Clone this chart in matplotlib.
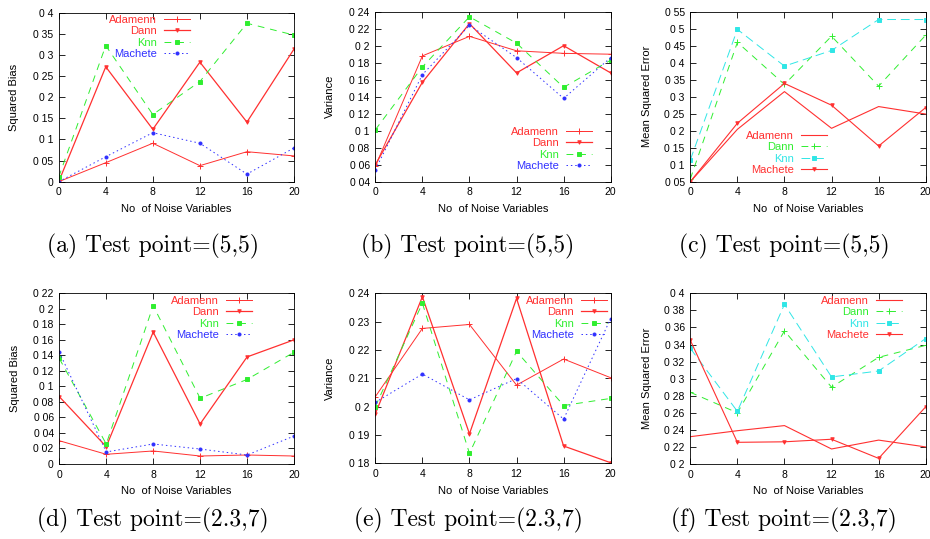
import matplotlib
matplotlib.use("Agg")
import matplotlib.pyplot as plt

plt.rcParams['font.family'] = ['Liberation Sans', 'DejaVu Sans']
plt.rcParams['axes.formatter.use_mathtext'] = False

x = [0, 4, 8, 12, 16, 20]
x_ticklabels = ["0", "4", "8", "12", "16", "20"]
series_names = ["Adamenn", "Dann", "Knn", "Machete"]

# (a) Squared bias, test point (5,5)
a_adamenn = [0.0, 0.045, 0.091, 0.038, 0.071, 0.061]
a_dann = [0.0, 0.272, 0.124, 0.283, 0.141, 0.314]
a_knn = [0.011, 0.322, 0.159, 0.237, 0.375, 0.347]
a_machete = [0.0, 0.059, 0.116, 0.091, 0.018, 0.080]
a_yticks = [0, 0.05, 0.1, 0.15, 0.2, 0.25, 0.3, 0.35, 0.4]
a_yticklabels = ["0", "0 05", "0 1", "0 15", "0 2", "0 25", "0 3", "0 35", "0 4"]

# (b) Variance, test point (5,5)
b_adamenn = [0.058, 0.188, 0.211, 0.194, 0.191, 0.190]
b_dann = [0.060, 0.157, 0.226, 0.168, 0.200, 0.168]
b_knn = [0.101, 0.175, 0.234, 0.203, 0.151, 0.183]
b_machete = [0.054, 0.166, 0.224, 0.186, 0.138, 0.186]
b_yticks = [0.04, 0.06, 0.08, 0.1, 0.12, 0.14, 0.16, 0.18, 0.2, 0.22, 0.24]
b_yticklabels = ["0 04", "0 06", "0 08", "0 1", "0 12", "0 14", "0 16", "0 18", "0 2", "0 22", "0 24"]

# (c) MSE, test point (5,5)
c_adamenn = [0.05, 0.204, 0.315, 0.207, 0.271, 0.249]
c_dann = [0.058, 0.460, 0.336, 0.478, 0.331, 0.481]
c_knn = [0.114, 0.498, 0.390, 0.436, 0.527, 0.527]
c_machete = [0.05, 0.222, 0.339, 0.275, 0.155, 0.268]
c_yticks = [0.05, 0.1, 0.15, 0.2, 0.25, 0.3, 0.35, 0.4, 0.45, 0.5, 0.55]
c_yticklabels = ["0 05", "0 1", "0 15", "0 2", "0 25", "0 3", "0 35", "0 4", "0 45", "0 5", "0 55"]

# (d) Squared bias, test point (2.3,7)
d_adamenn = [0.030, 0.0125, 0.0168, 0.0103, 0.0116, 0.0103]
d_dann = [0.0868, 0.0223, 0.170, 0.0516, 0.138, 0.160]
d_knn = [0.136, 0.0258, 0.204, 0.0847, 0.109, 0.144]
d_machete = [0.144, 0.0155, 0.0258, 0.0193, 0.0116, 0.036]
d_yticks = [0, 0.02, 0.04, 0.06, 0.08, 0.1, 0.12, 0.14, 0.16, 0.18, 0.2, 0.22]
d_yticklabels = ["0", "0 02", "0 04", "0 06", "0 08", "0 1", "0 12", "0 14", "0 16", "0 18", "0 2", "0 22"]

# (e) Variance, test point (2.3,7)
e_adamenn = [0.2035, 0.2276, 0.229, 0.2076, 0.2168, 0.2102]
e_dann = [0.1974, 0.2388, 0.1904, 0.2382, 0.1861, 0.1802]
e_knn = [0.200, 0.2365, 0.1835, 0.2195, 0.2004, 0.2029]
e_machete = [0.2015, 0.2115, 0.2024, 0.2099, 0.1956, 0.2311]
e_yticks = [0.18, 0.19, 0.2, 0.21, 0.22, 0.23, 0.24]
e_yticklabels = ["0 18", "0 19", "0 2", "0 21", "0 22", "0 23", "0 24"]

# (f) MSE, test point (2.3,7)
f_adamenn = [0.232, 0.239, 0.245, 0.2176, 0.228, 0.220]
f_dann = [0.284, 0.260, 0.356, 0.290, 0.325, 0.339]
f_knn = [0.3355, 0.2617, 0.387, 0.302, 0.309, 0.347]
f_machete = [0.345, 0.2254, 0.226, 0.229, 0.2066, 0.267]
f_yticks = [0.2, 0.22, 0.24, 0.26, 0.28, 0.3, 0.32, 0.34, 0.36, 0.38, 0.4]
f_yticklabels = ["0 2", "0 22", "0 24", "0 26", "0 28", "0 3", "0 32", "0 34", "0 36", "0 38", "0 4"]

captions = ["(a) Test point=(5,5)", "(b) Test point=(5,5)", "(c) Test point=(5,5)",
            "(d) Test point=(2.3,7)", "(e) Test point=(2.3,7)", "(f) Test point=(2.3,7)"]
ylabels = ["Squared Bias", "Variance", "Mean Squared Error",
           "Squared Bias", "Variance", "Mean Squared Error"]
xlabel = "No  of Noise Variables"

W, H = 930, 539
fig = plt.figure(figsize=(W / 100, H / 100), dpi=100)

RED = '#ff3030'
GREEN = '#30ee30'
BLUE = '#3030ff'
CYAN = '#30e6e6'

style_ab = [
    dict(color=RED, marker='+', ms=4, lw=0.7, ls='-'),
    dict(color=RED, marker='v', ms=2.5, lw=0.9, ls='-'),
    dict(color=GREEN, marker='s', ms=2.2, lw=0.7, dashes=(7, 6)),
    dict(color=BLUE, marker='o', ms=2.2, lw=0.7, dashes=(1.5, 3)),
]
style_cf = [
    dict(color=RED, marker='', lw=0.8, ls='-'),
    dict(color=GREEN, marker='+', ms=4, lw=0.7, dashes=(7, 6)),
    dict(color=CYAN, marker='s', ms=3.2, lw=0.7, dashes=(9, 5)),
    dict(color=RED, marker='v', ms=2.5, lw=0.8, ls='-'),
]

panels = [
    dict(box=(58.7, 294, 12.7, 181.7), data=[a_adamenn, a_dann, a_knn, a_machete],
         yticks=a_yticks, ytl=a_yticklabels, style=style_ab, leg=(190, 15), ylx=14,
         cap=(153, 246), xlab_y=209),
    dict(box=(375.3, 610.7, 11.7, 181.7), data=[b_adamenn, b_dann, b_knn, b_machete],
         yticks=b_yticks, ytl=b_yticklabels, style=style_ab, leg=(592, 127), ylx=330,
         cap=(468, 246), xlab_y=209),
    dict(box=(690.3, 925.7, 11.7, 181.7), data=[c_adamenn, c_dann, c_knn, c_machete],
         yticks=c_yticks, ytl=c_yticklabels, style=style_cf, leg=(827, 131), ylx=647,
         cap=(784, 246), xlab_y=209),
    dict(box=(59.3, 294, 293.3, 464), data=[d_adamenn, d_dann, d_knn, d_machete],
         yticks=d_yticks, ytl=d_yticklabels, style=style_ab, leg=(252, 296), ylx=15,
         cap=(153, 520), xlab_y=491),
    dict(box=(375.3, 610.7, 293.3, 463.3), data=[e_adamenn, e_dann, e_knn, e_machete],
         yticks=e_yticks, ytl=e_yticklabels, style=style_ab, leg=(607, 296), ylx=330,
         cap=(468, 520), xlab_y=491),
    dict(box=(690.3, 925.7, 293.3, 464), data=[f_adamenn, f_dann, f_knn, f_machete],
         yticks=f_yticks, ytl=f_yticklabels, style=style_cf, leg=(902, 296), ylx=647,
         cap=(784, 520), xlab_y=491),
]

for i, p in enumerate(panels):
    l, r, t, b = p['box']
    ax = fig.add_axes([l / W, 1 - b / H, (r - l) / W, (b - t) / H])
    for name, ys, st in zip(series_names, p['data'], p['style']):
        ax.plot(x, ys, label=name, mec=st['color'], mew=0.7, **st)
    ax.set_xlim(0, 20)
    ax.set_ylim(p['yticks'][0], p['yticks'][-1])
    ax.set_xticks(x)
    ax.set_xticklabels(x_ticklabels)
    ax.set_yticks(p['yticks'])
    ax.set_yticklabels(p['ytl'])
    ax.tick_params(direction='in', length=4, width=0.6, labelsize=7.5,
                   top=True, right=True, pad=4)
    for s in ax.spines.values():
        s.set_linewidth(0.6)
    fig.text(p['ylx'] / W, 1 - ((t + b) / 2) / H, ylabels[i], rotation=90,
             ha='center', va='center', fontsize=8)
    fig.text(((l + r) / 2) / W, 1 - p['xlab_y'] / H, xlabel,
             ha='center', va='center', fontsize=8)
    lx, ly = p['leg']
    ax.legend(loc='upper right', bbox_to_anchor=(lx / W, 1 - ly / H),
              bbox_transform=fig.transFigure, frameon=False, markerfirst=False,
              labelcolor='linecolor', fontsize=8, handlelength=2.3,
              handletextpad=0.7, labelspacing=0.12, borderpad=0, borderaxespad=0)
    cx, cy = p['cap']
    fig.text(cx / W, 1 - cy / H, captions[i], ha='center', va='center',
             fontsize=17, family=['cmr10', 'DejaVu Serif'])

fig.savefig("out.png", dpi=100)
